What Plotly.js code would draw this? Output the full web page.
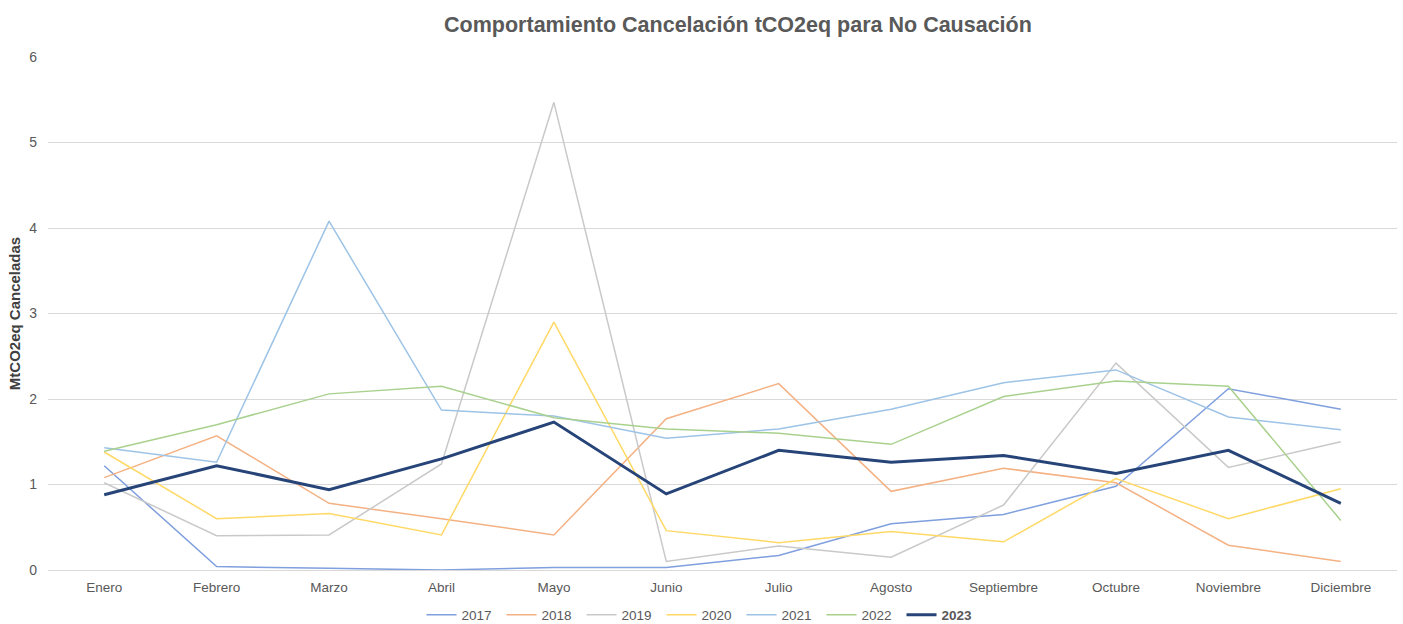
<!DOCTYPE html>
<html><head><meta charset="utf-8">
<script src="https://cdn.plot.ly/plotly-3.0.1.min.js"></script>
<style>html,body{margin:0;padding:0;background:#fff}#chart{width:1403px;height:624px}</style>
</head><body><div id="chart"></div>
<script>
const months = ["Enero","Febrero","Marzo","Abril","Mayo","Junio","Julio","Agosto","Septiembre","Octubre","Noviembre","Diciembre"];
const years = ["2017","2018","2019","2020","2021","2022","2023"];
const v2017 = [1.22,0.04,0.02,0.0,0.03,0.03,0.17,0.54,0.65,0.98,2.12,1.88];
const v2018 = [1.08,1.57,0.78,0.60,0.41,1.77,2.18,0.92,1.19,1.02,0.29,0.10];
const v2019 = [1.02,0.40,0.41,1.24,5.47,0.10,0.28,0.15,0.76,2.42,1.20,1.50];
const v2020 = [1.38,0.60,0.66,0.41,2.90,0.46,0.32,0.45,0.33,1.07,0.60,0.95];
const v2021 = [1.43,1.26,4.08,1.87,1.80,1.54,1.65,1.88,2.19,2.34,1.79,1.64];
const v2022 = [1.39,1.70,2.06,2.15,1.78,1.65,1.60,1.47,2.03,2.21,2.15,0.58];
const v2023 = [0.88,1.22,0.94,1.30,1.73,0.89,1.40,1.26,1.34,1.13,1.40,0.78];
const series = [v2017,v2018,v2019,v2020,v2021,v2022,v2023];
const colors = ["#7F9FDE","#F4B183","#C9C9C9","#FFD966","#9DC3E6","#A9D18E","#264478"];
const widths = [1.5,1.5,1.5,1.5,1.5,1.5,3];
const traces = series.map((s,i)=>({
  x: months, y: s, type:"scatter", mode:"lines",
  name: i===6 ? "<b>"+years[i]+"</b>" : years[i],
  line:{color:colors[i], width:widths[i]}
}));
const layout = {
  width:1403, height:624,
  margin:{l:48,r:6,t:57,b:54, autoexpand:false},
  paper_bgcolor:"#fff", plot_bgcolor:"#fff",
  font:{family:"Liberation Sans, Arial, sans-serif", color:"#595959", size:13},
  title:{text:"<b>Comportamiento Cancelación tCO2eq para No Causación</b>", x:0.526, xref:"container", y:0.96, yref:"container", yanchor:"middle", font:{size:21.5,color:"#595959"}},
  xaxis:{type:"category", range:[-0.5,11.5], showgrid:false, showline:false, zeroline:false, ticks:"", tickangle:0, ticklabelstandoff:7, tickfont:{size:13.5,color:"#595959"}, fixedrange:true},
  yaxis:{range:[0,6], dtick:1, showgrid:true, gridcolor:"#D9D9D9", gridwidth:1, zeroline:true, zerolinecolor:"#D9D9D9", zerolinewidth:1, showline:false, ticks:"", ticklen:0, ticklabelstandoff:10, tickfont:{size:14,color:"#595959"}, title:{text:"<b>MtCO2eq Canceladas</b>", font:{size:15,color:"#404040"}, standoff:4}},
  showlegend:true,
  legend:{orientation:"h", x:0.5, xref:"container", xanchor:"center", y:0.0144, yref:"container", yanchor:"middle", entrywidth:35, font:{size:13.5,color:"#595959"}, traceorder:"normal"}
};
Plotly.newPlot("chart", traces, layout, {displayModeBar:false, staticPlot:true});
</script></body></html>
